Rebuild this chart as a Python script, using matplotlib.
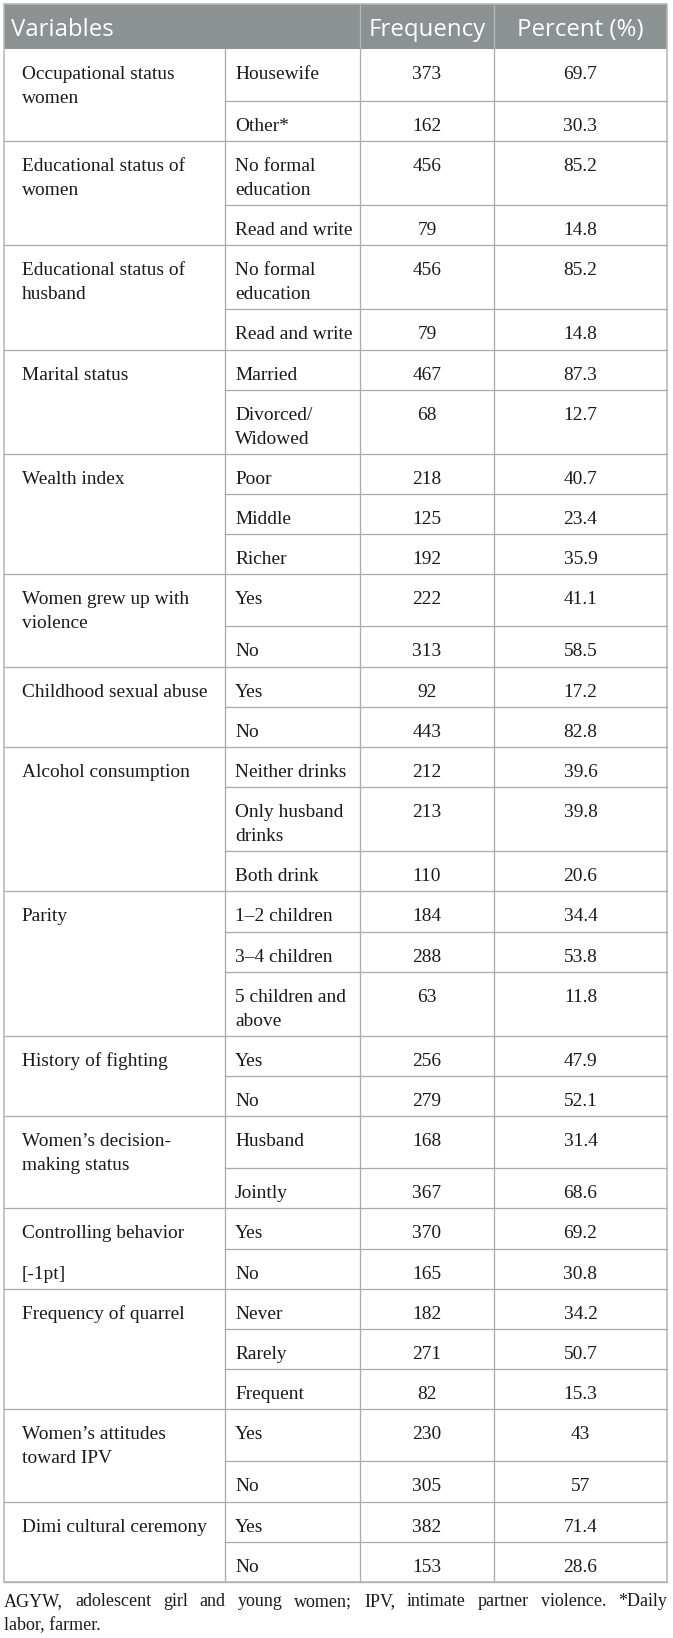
import matplotlib
matplotlib.use("Agg")
import matplotlib.pyplot as plt
from matplotlib.patches import Rectangle

# ---------------- data ----------------
header = ["Variables", "Frequency", "Percent (%)"]
variables = [
    "Occupational status\nwomen",
    "Educational status of\nwomen",
    "Educational status of\nhusband",
    "Marital status",
    "Wealth index",
    "Women grew up with\nviolence",
    "Childhood sexual abuse",
    "Alcohol consumption",
    "Parity",
    "History of fighting",
    "Women\u2019s decision-\nmaking status",
    "Controlling behavior",
    "Frequency of quarrel",
    "Women\u2019s attitudes\ntoward IPV",
    "Dimi cultural ceremony",
]
variable_notes = {11: "[-1pt]"}   # text shown in the 2nd sub-row of group 11
group_sizes = [2, 2, 2, 2, 3, 2, 2, 3, 3, 2, 2, 2, 3, 2, 2]
categories = [
    "Housewife", "Other*",
    "No formal\neducation", "Read and write",
    "No formal\neducation", "Read and write",
    "Married", "Divorced/\nWidowed",
    "Poor", "Middle", "Richer",
    "Yes", "No",
    "Yes", "No",
    "Neither drinks", "Only husband\ndrinks", "Both drink",
    "1\u20132 children", "3\u20134 children", "5 children and\nabove",
    "Yes", "No",
    "Husband", "Jointly",
    "Yes", "No",
    "Never", "Rarely", "Frequent",
    "Yes", "No",
    "Yes", "No",
]
frequency = [373, 162, 456, 79, 456, 79, 467, 68, 218, 125, 192, 222, 313, 92, 443,
             212, 213, 110, 184, 288, 63, 256, 279, 168, 367, 370, 165, 182, 271, 82,
             230, 305, 382, 153]
percent = [69.7, 30.3, 85.2, 14.8, 85.2, 14.8, 87.3, 12.7, 40.7, 23.4, 35.9, 41.1, 58.5,
           17.2, 82.8, 39.6, 39.8, 20.6, 34.4, 53.8, 11.8, 47.9, 52.1, 31.4, 68.6, 69.2,
           30.8, 34.2, 50.7, 15.3, 43, 57, 71.4, 28.6]
footnote_line1 = "AGYW, adolescent girl and young women; IPV, intimate partner violence. *Daily"
footnote_line2 = "labor, farmer."

# ---------------- layout ----------------
W, H = 673, 1638
DPI = 100
PT = 72.0 / DPI                      # points per pixel
X0, X1, X2, X3, X4 = 4, 225, 360, 494, 667
HEAD_TOP, HEAD_BOT = 4, 49
H_SINGLE, H_COL1_DOUBLE, H_DOUBLE = 40.2, 52.0, 64.0
BASE0, LINE_SP = 30.0, 24.0
LINE_C = "#ababab"
LW = 1.3 * PT
SERIF = ["Liberation Serif", "DejaVu Serif"]
SANS = ["Open Sans", "DejaVu Sans"]
BODY_FS = 19.4 * PT
HEAD_FS = 24.0 * PT
FOOT_FS = 18.0 * PT

fig = plt.figure(figsize=(W / DPI, H / DPI), dpi=DPI)
ax = fig.add_axes([0, 0, 1, 1])
ax.set_xlim(0, W)
ax.set_ylim(H, 0)
ax.axis("off")

# header
ax.add_patch(Rectangle((X0, HEAD_TOP), X4 - X0, HEAD_BOT - HEAD_TOP,
                       facecolor="#8c9292", edgecolor="none", zorder=1))
for xv in (X2, X3):
    ax.plot([xv, xv], [HEAD_TOP, HEAD_BOT], color="#b3b8b8", lw=LW, zorder=2)
ax.text(11, 36, header[0], fontsize=HEAD_FS, family=SANS, color="white", va="baseline", ha="left")
ax.text((X2 + X3) / 2, 36, header[1], fontsize=HEAD_FS, family=SANS, color="white",
        va="baseline", ha="center")
ax.text((X3 + X4) / 2, 36, header[2], fontsize=HEAD_FS, family=SANS, color="white",
        va="baseline", ha="center")

# body
y = HEAD_BOT
idx = 0
for g, (label, n) in enumerate(zip(variables, group_sizes)):
    group_top = y
    # group label
    for k, line in enumerate(label.split("\n")):
        ax.text(22, group_top + BASE0 + k * LINE_SP, line, fontsize=BODY_FS, family=SERIF,
                color="#1a1a1a", va="baseline", ha="left")
    for r in range(n):
        cat = categories[idx]
        if "\n" in cat:
            h = H_DOUBLE
        elif r == 0 and "\n" in label:
            h = H_COL1_DOUBLE
        else:
            h = H_SINGLE
        if r == 1 and g in variable_notes:
            ax.text(22, y + BASE0, variable_notes[g], fontsize=BODY_FS, family=SERIF,
                    color="#1a1a1a", va="baseline", ha="left")
        for k, line in enumerate(cat.split("\n")):
            ax.text(235, y + BASE0 + k * LINE_SP, line, fontsize=BODY_FS, family=SERIF,
                    color="#1a1a1a", va="baseline", ha="left")
        ax.text((X2 + X3) / 2, y + BASE0, f"{frequency[idx]}", fontsize=BODY_FS, family=SERIF,
                color="#1a1a1a", va="baseline", ha="center")
        ax.text((X3 + X4) / 2, y + BASE0, f"{percent[idx]:g}", fontsize=BODY_FS, family=SERIF,
                color="#1a1a1a", va="baseline", ha="center")
        y += h
        idx += 1
        last = (r == n - 1)
        if last:
            ax.plot([X0, X4], [y, y], color=LINE_C, lw=LW, zorder=2)
        else:
            ax.plot([X1, X4], [y, y], color=LINE_C, lw=LW, zorder=2)
TABLE_BOT = y

# vertical lines in body
for xv in (X1, X2, X3):
    ax.plot([xv, xv], [HEAD_BOT, TABLE_BOT], color=LINE_C, lw=LW, zorder=2)
# outer border
ax.add_patch(Rectangle((X0, HEAD_TOP), X4 - X0, TABLE_BOT - HEAD_TOP, facecolor="none",
                       edgecolor="#b5b5b5", lw=LW * 1.2, zorder=3))

# footnote (justified first line)
renderer = fig.canvas.get_renderer()
words = footnote_line1.split(" ")
fy1 = TABLE_BOT + 24
fy2 = fy1 + 24
texts = [ax.text(0, fy1, w, fontsize=FOOT_FS, family=SERIF, color="#1a1a1a",
                 va="baseline", ha="left") for w in words]
widths = [t.get_window_extent(renderer=renderer).width for t in texts]
gap = ((X4 - X0) - sum(widths)) / (len(words) - 1)
xpos = X0
for t, wdt in zip(texts, widths):
    t.set_x(xpos)
    xpos += wdt + gap
ax.text(X0, fy2, footnote_line2, fontsize=FOOT_FS, family=SERIF, color="#1a1a1a",
        va="baseline", ha="left")

fig.savefig("out.png", dpi=DPI)
